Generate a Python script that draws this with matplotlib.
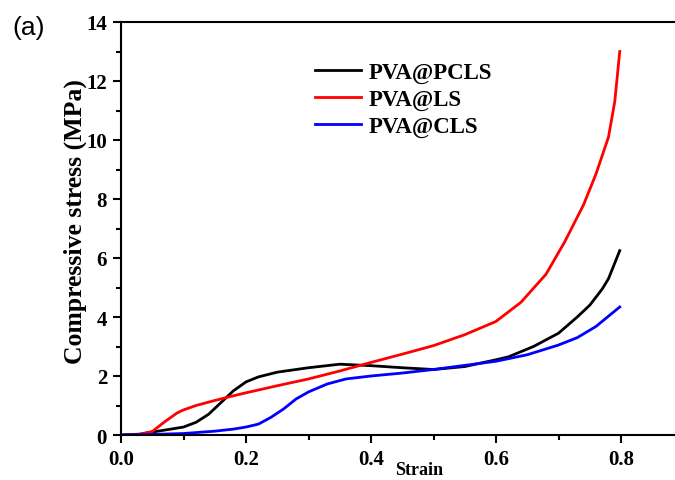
import matplotlib
matplotlib.use("Agg")
import matplotlib.pyplot as plt
from matplotlib.ticker import MultipleLocator

pcls_x = [0, 0.03, 0.05, 0.08, 0.1, 0.12, 0.14, 0.16, 0.18, 0.2, 0.22, 0.25, 0.3, 0.35, 0.4, 0.45, 0.5, 0.55, 0.6, 0.62, 0.66, 0.7, 0.73, 0.75, 0.77, 0.78, 0.798]
pcls_y = [0, 0.03, 0.1, 0.2, 0.27, 0.43, 0.7, 1.1, 1.5, 1.8, 1.97, 2.13, 2.28, 2.4, 2.35, 2.28, 2.22, 2.32, 2.55, 2.65, 3.0, 3.45, 4.0, 4.4, 4.95, 5.3, 6.25]

ls_x = [0, 0.03, 0.05, 0.07, 0.09, 0.1, 0.12, 0.15, 0.18, 0.2, 0.25, 0.3, 0.35, 0.4, 0.45, 0.5, 0.55, 0.6, 0.64, 0.68, 0.71, 0.74, 0.76, 0.78, 0.79, 0.798]
ls_y = [0, 0.02, 0.12, 0.45, 0.75, 0.85, 1.0, 1.17, 1.33, 1.43, 1.67, 1.9, 2.17, 2.46, 2.74, 3.03, 3.4, 3.85, 4.5, 5.45, 6.55, 7.8, 8.85, 10.1, 11.3, 13.0]

cls_x = [0, 0.05, 0.1, 0.15, 0.18, 0.2, 0.22, 0.24, 0.26, 0.28, 0.3, 0.33, 0.36, 0.4, 0.45, 0.5, 0.55, 0.6, 0.65, 0.7, 0.73, 0.76, 0.798]
cls_y = [0, 0.02, 0.05, 0.13, 0.2, 0.27, 0.37, 0.6, 0.88, 1.22, 1.46, 1.73, 1.9, 2.0, 2.1, 2.22, 2.36, 2.5, 2.72, 3.05, 3.3, 3.68, 4.34]

labels = ["PVA@PCLS", "PVA@LS", "PVA@CLS"]
colors = ["#000000", "#ff0000", "#0000ff"]

xticks = [0.0, 0.2, 0.4, 0.6, 0.8]
yticks = [0, 2, 4, 6, 8, 10, 12, 14]

serif = "Liberation Serif"

fig = plt.figure(figsize=(6.75, 4.81), dpi=100)
ax = fig.add_axes([121/675, 1-436/481, 1-121/675, (436-23)/481])

for xs, ys, lab, c in zip([pcls_x, ls_x, cls_x], [pcls_y, ls_y, cls_y], labels, colors):
    ax.plot(xs, ys, color=c, lw=2.0, label=lab, solid_joinstyle="round")

ax.set_xlim(0, 0.8864)
ax.set_ylim(0, 14)
ax.set_xticks(xticks)
ax.set_xticklabels([f"{v:.1f}" for v in xticks])
ax.set_yticks(yticks)
ax.set_yticklabels([str(v) for v in yticks])
ax.xaxis.set_minor_locator(MultipleLocator(0.1))
ax.yaxis.set_minor_locator(MultipleLocator(1))
ax.tick_params(which="major", direction="out", length=6, width=1.5, labelsize=15, pad=4)
ax.tick_params(which="minor", direction="out", length=3.5, width=1.5)
for lab in ax.get_xticklabels() + ax.get_yticklabels():
    lab.set_fontfamily(serif)
    lab.set_fontweight("bold")

ax.spines["right"].set_visible(False)
for s in ["left", "bottom", "top"]:
    ax.spines[s].set_linewidth(1.5)

fig.text(75/675, 1-222/481, "Compressive stress (MPa)", rotation=90, ha="center", va="center",
         fontfamily=serif, fontweight="bold", fontsize=18.5)
fig.text(419/675, 1-479/481, "Strain", ha="center", va="bottom",
         fontfamily=serif, fontweight="bold", fontsize=13)
fig.text(12/675, 1-28/481, "(a)", ha="left", va="center", fontfamily="Liberation Sans", fontsize=19)

leg = fig.legend(loc="upper left", bbox_to_anchor=(315/675, 1-63/481), frameon=False,
                 borderpad=0, borderaxespad=0, handlelength=2.0, handletextpad=0.35,
                 labelspacing=0.25, prop={"family": serif, "weight": "bold", "size": 16.5})

fig.savefig("out.png", dpi=100)
